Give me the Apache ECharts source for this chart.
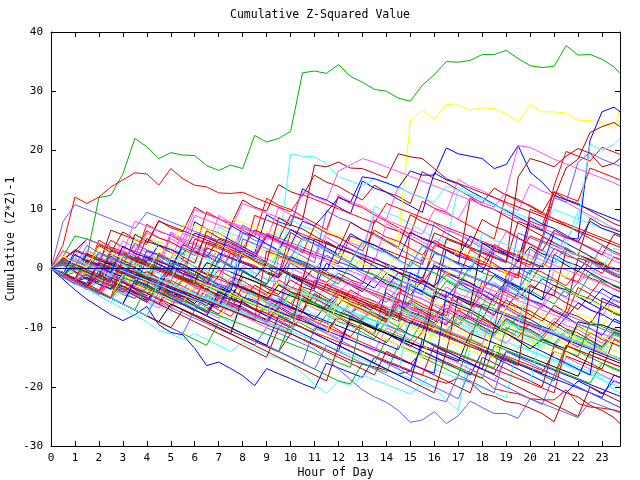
<!DOCTYPE html>
<html><head><meta charset="utf-8">
<script src="https://cdn.jsdelivr.net/npm/echarts@6/dist/echarts.min.js"></script>
<style>html,body{margin:0;padding:0;background:#fff}#c{width:640px;height:480px}</style>
</head><body><div id="c"></div>
<script>
const hours=[0,0.5,1,1.5,2,2.5,3,3.5,4,4.5,5,5.5,6,6.5,7,7.5,8,8.5,9,9.5,10,10.5,11,11.5,12,12.5,13,13.5,14,14.5,15,15.5,16,16.5,17,17.5,18,18.5,19,19.5,20,20.5,21,21.5,22,22.5,23,23.5,23.75];
const s1=[0,-1,0.5,2,12,12.4,16,22, 20.6,18.6,19.6,19.2,19.1,17.4,16.6,17.5, 16.9,22.5,21.4,22,23.2,33.1,33.4,33, 34.5,32.5,31.5,30.3,30,28.8,28.3,31, 32.8,35,34.9,35.2,36.2,36.2,36.9,35.5, 34.3,34,34.2,37.7,36.1,36.2,35.4,34.1, 33];
const s2=[0,-0.7,1.5,0.8,4,3.2,2.5,6, 5.2,4.5,3.8,7.5,6.8,6,5.3,8.5, 7.8,7,6.3,5.6,4.9,4.2,7,6.3, 5.6,4.9,4.2,3.6,4.5,5,25,26.8, 25.3,27.8,27.6,26.8,27.2,27,26.2,24.8, 27.7,26.5,26.5,26.3,25.1,25,24.7,23.7, 26.8];
const s3=[0,-1,-1.8,-2.5,1,0.2,-0.6,-1.4, 3,2.2,1.4,0.6,-0.2,-1,2.5,1.7, 0.9,0.1,-0.7,-1.5,2,1.2,0.4,-0.4, 4,3.2,2.4,1.6,0.8,0,-0.8,-1.6, 2.6,1.8,1,0.2,-0.6,3.5,2.7,1.9, 1.1,0.3,6,5.2,5,21.7,26.5,27.3, 26.5];
const s4=[0,-1.8,-3.6,-5.2,-6.5,-7.8,-8.8,-7.8, -6.4,-9.5,-10.8,-11.2,-13.5,-16.4,-15.8,-16.9, -18.1,-19.8,-16.9,-17.8,-18.6,-19.5,-20.3,-16, -16.8,-17.6,-18.4,-15,-15.8,-16.6,-17.4,-13, -13.8,-14.6,-15.4,-16.2,-17,-17.8,-14,-14.8, -15.6,-16.4,-17.2,-18,-18.8,-19.6,-20.4,-21.2, -21.6];
const s5=[0,-0.8,-1.6,1.5,0.7,-0.1,-0.9,-1.7, 2,1.2,0.4,-0.4,-1.2,3.5,2.7,1.9, 1.1,0.3,-0.5,-1.3,4,3.2,2.4,1.6, 0.8,5.5,4.7,3.9,3.1,2.3,1.5,0.7, 6,5.2,4.4,3.6,2.8,2,1.2,8, 7.2,6.4,12,17,18.5,23,24,24.7, 24];
const s6=[0,-1,-2,-1,-1.8,-2.6,0.5,-0.3, -1.1,-1.9,2,1.2,0.4,-0.4,-1.2,-2, -2.8,0,-0.8,3,19.4,19,18.9,17.7, 15.5,14.8,14,15.2,14.4,13.6,12.8,12, 11.2,14,13.2,12.4,11.6,10.8,10,9.2, 8.4,7.6,10,9.2,8.4,7.6,6.8,6, 5.6];
const s7=[0,4,12.1,11,12.1,13.8,15,16.2, 16,14.1,16.9,15.2,14.1,13.8,12.8,12.7, 12.9,12,11.2,10.4,9.6,12.5,11.7,10.9, 10.1,9.3,8.5,7.7,11,10.2,9.4,8.6, 7.8,7,6.2,5.4,4.6,3.8,3,2.2, 5.5,4.7,3.9,3.1,2.3,1.5,0.7,-0.1, -0.5];
const s8=[0,-1.1,-2.2,-3.2,-4.2,-5.1,-3,-3.9, -4.8,-5.7,-6.6,-7.5,-8.4,-9.3,-10.2,-11.1, -12,-12.9,-10,-10.9,-11.8,-12.7,-13.6,-15.2, -17,-18.8,-20.5,-21.7,-22.6,-24,-26,-25.6, -24.2,-26.2,-24.9,-22.4,-23.5,-24.5,-24.5,-25.3, -22,-22.8,-23.6,-24.4,-25.2,-22.5,-23.2,-24, -24.4];
const s9=[0,-0.9,-1.8,-2.7,-3.6,-1.5,-2.4,-3.3, -4.2,-5.1,-6,-6.9,-7.8,-8.7,-9.6,-10.5, -11.4,-12.3,-13.2,-14.1,-11,-11.9,-12.8,-13.7, -14.6,-15.5,-16.2,-16.6,-17.2,-17.8,-17.4,-18, -18.8,-19.4,-18.5,-19.2,-21.1,-21.6,-22.5,-22.8, -23.6,-24.5,-25.9,-21,-21.7,-23.1,-24,-25.2, -26.2];
const s10=[0,-1,-2,-1,-2,-3,-4,-2.5, -3.4,-4.3,-5.2,-6.1,-7,-7.9,-5,-5.9, -6.8,-7.7,-8.6,-9.5,-10.4,-8,-8.9,-9.8, -10.7,-11.6,-12.5,-13.4,-14.3,-15.2,-16.1,-14, -14.9,-15.8,-16.7,-17.6,-18.5,-20.3,-20.8,-21.2, -22,-22.2,-22.2,-20.5,-22.8,-23.4,-23.6,-23.9, -24.2];
const s11=[0,1.5,3,5,4.2,3.4,2.6,1.8, 1,0.2,-0.6,-1.4,-2.2,1,0.2,-0.6, -1.4,-2.2,-3,-3.8,-4.6,-5.4,-6.2,-7, -7.8,-8.6,-9.4,-10.2,-11,-11.8,-12.6,-13.4, -4.6,-5.4,-6.2,-7,-8.1,-9.5,-10.9,-12.2, -13.6,-12,-12.8,-13.6,-9,-9.5,-9.5,-10.3, -10.7];
const s12=[0,-1.2,-2.4,-3.5,-4.6,-5.7,-6.8,-7.9, -9,-10.5,-11,-12,-11,-12,-13,-14, -12.5,-13.5,-14.5,-15.2,-16,-17.7,-19.6,-21.1, -19,-19.8,-18,-18.8,-19.6,-20.4,-21.2,-19.5, -20.2,-22.2,-24,-13,-13.8,-14.6,-15.4,-16.2, -17,-17.8,-15,-15.8,-16.6,-17.4,-18.2,-19, -19.4];
const s13=[0,-1,-2,1,0.2,-0.6,-1.4,2, 1.2,4,3.2,2.4,6,5.2,4.4,3.6, 2.8,2,5.5,4.7,3.9,8,7.2,9.5, 12,11.2,15.5,15.2,14.5,13.7,16.5,15.8, 15.8,20.4,19.4,19,18.6,16.9,17.6,20.8, 16.3,14.6,12.4,11.6,10.8,10,9.2,8.4, 8];
const s14=[0,1,0.2,-0.6,2.5,1.7,0.9,4, 3.2,2.4,1.6,6,5.2,4.4,3.6,2.8, 7,6.2,5.4,4.6,3.8,3,2.2,6, 5.2,4.4,3.6,9,8.2,7.4,6.6,5.8, 10,9.2,8.4,12,11.2,10.4,13,20.8, 20.5,19.5,18.5,17.7,16.9,16.1,15.3,14.5, 14];
const s15=[0,-1,-2,-3,-1,-2,1,0.2, 2,1.2,0.4,3.5,2.7,1.9,5,4.2, 3.4,6.5,5.7,4.9,9,8.2,17.5,17.2, 18,17,16.9,16.1,15.3,19.4,18.9,18.6, 16.9,15.2,14.4,13.6,12.8,12,11.2,10.4, 9.6,8.8,8,7.2,6.4,5.6,4.8,4, 3.6];
const s16=[0,-1,-2,-3,-4,-2,-3,-4, -5,-6,-2,-3,-4,-5,-6,-7, -3,-4,-5,-6,-7,-2,-3,-4, -5,-6,-7,-8,-9,-4,-5,-6, -7,-8,-2,-3,-4,3,2.2,1.4, 0.6,5,14,19.8,19,18.2,20.5,19.7, 19.3];
const s17=[0,2,5.5,5,4.2,3.4,2.6,1.8, 1,0.2,-0.6,-1.4,-2.2,-3,-3.8,-4.6, -5.4,-6.2,-7,-7.8,-8.6,-5,-5.8,-6.6, -7.4,-8.2,-9,-9.8,-10.6,-11.4,-12.2,-9, -9.8,-10.6,-11.4,-12.2,-6,-6.8,-7.6,-8.4, -9.2,-10,-10.8,-11.6,-12.4,-13.2,-14,-14.8, -15.2];
const s18=[0,-1,-2,-3,-4,-5,-6,-2, -3,-4,-5,-6,-7,-8,-4,-5, -6,-7,-8,-9,-10,-11,-12,-13, -14,-8,-9,-10,-11,-12,-13,-14, -15,-16,-17,-18,-14,-15,-16,-17, -18,-19,-20,-21,-19,-20,-21.2,-19, -19.4];
const s19=[0,-1.2,-2.4,-3.6,-1,-2,-3,-4, -5,-6,-7,-3,-4,-5,-6,-7, -8,-9,-10,-6,-7,-8,-9,-10, -11,-12,-13,-14,-10,-11,-12,-13, -14,-15,-16,-17,-18,-19,-15,-16, -17,-18,-19,-15,-16,-17,-18,-19, -19.5];
const s20=[0,1,0.2,3,2.2,1.4,0.6,-0.2, -1,-1.8,-2.6,-3.4,-4.2,-5,-5.8,-6.6, -7.4,-8.2,-9,-9.8,-10.6,-11.4,-12.2,-13, -13.8,-14.6,-15.4,-16.2,-17,-17.8,-18.6,-19.4, -17,-17.8,-18.6,-19.4,-20.2,-21,-21.8,-13, -13.8,-14.6,-15.4,-16.2,-17,-17.8,-18.6,-20.5, -21];
const s21=[0,3,2.2,1.4,0.6,6.5,5.7,4.9, 4.1,8,7.2,6.4,5.6,4.8,4,3.2, 2.4,1.6,0.8,0,-0.8,-1.6,-2.4,-3.2, -4,-4.8,-5.6,-6.4,-7.2,-8,-8.8,-9.6, -10.4,-11.2,-12,-12.8,-13.6,-14.4,-15.2,-16, -16.8,-17.6,-14,-14.8,-15.6,-16.4,-17.2,-18, -18.4];
const s22=[0,-1,-2,2,1.2,0.4,-0.4,5, 4.2,3.4,2.6,1.8,7.5,6.7,5.9,5.1, 4.3,3.5,2.7,1.9,1.1,0.3,-0.5,-1.3, 2.5,1.7,0.9,0.1,-0.7,-1.5,-2.3,-3.1, -3.9,-0.5,-1.3,-2.1,-2.9,-3.7,-4.5,-5.3, -1.5,-2.3,-3.1,-3.9,-4.7,-5.5,-6.3,-7.1, -7.5];
const s23=[0,7.9,10.8,10,9.2,8.4,7.6,6.8, 9.5,8.7,7.9,7.1,6.3,5.5,4.7,3.9, 3.1,2.3,6,5.2,4.4,3.6,2.8,2, 1.2,0.4,-0.4,-1.2,-2,-2.8,-3.6,-4.4, 1,0.2,-0.6,-1.4,-2.2,-3,-3.8,-4.6, -5.4,-6.2,-7,-7.8,-8.6,-9.4,-10.2,-11, -11.4];
const s24=[0,-1,-2,-3,-4,-5,-6,-7, -8,-9,-6,-7,-8,-9,-10,-11, -5,-6,-7,-8,-9,-10,-11,-12, -13,-8.5,-9.3,-10.1,-10.9,-11.7,-12.5,-13.3, -14.1,-14.9,-15.7,-11,-11.8,-12.6,-13.4,-14.2, -15,-15.8,-16.6,-17.4,-18.2,-14,-14.8,-15.6, -16];
const s25=[0,-1,-2,-3,1,0.2,-0.6,-1.4, -2.2,-3,-3.8,-4.6,-5.4,-1,-1.8,-2.6, -3.4,-4.2,-5,-5.8,-6.6,-7.4,-2,-2.8, -3.6,-4.4,-5.2,-6,-6.8,-7.6,-8.4,-9.2, -10,-10.8,-11.6,-12.4,-13.2,-14,-14.8,-15.6, -16.4,-17.2,-18,-13,-13.8,-14.6,-15.4,-16.2, -16.6];
const s26=[0,-1,-2,-3,-4,-5,-6,-7, -8,-9,-10,-11,-12,-13,-9,-10, -11,-12,-13,-14,-15,-16,-17,-18, -19,-19.5,-16,-16.8,-17.6,-13,-13.8,-14.6, -15.4,-16.2,-17,-17.8,-18.6,-13,-13.8,-14.6, -15.4,-16.2,-17,-17.8,-18.6,-19.4,-16,-16.8, -17.2];
const s27=[0,-1,-2,-3,-4,-1,-2,-3, 1.5,0.7,-0.1,-0.9,-1.7,-2.5,-3.3,-4.1, -4.9,-5.7,-6.5,-7.3,-8.1,-8.9,-9.7,-10.5, -11.3,-12.1,-12.9,-13.7,-14.5,-15.3,-16.1,-16.9, -17.7,-4,-4.8,-5.6,-6.4,-7.2,-8,-8.8, -9.6,-10.4,-11.2,-12,-12.8,-13.6,-14.4,-15.2, -15.6];
const s28=[0,-1,1.5,0.7,-0.1,-0.9,3,2.2, 1.4,0.6,-0.2,-1,-1.8,-2.6,-3.4,4, 3.2,2.4,1.6,0.8,0,-0.8,-1.6,-2.4, -3.2,-4,-4.8,-5.6,-6.4,-7.2,-8,-8.8, -9.6,-10.4,-11.2,-12,-12.8,-7,-7.8,-8.6, -9.4,-10.2,-11,-11.8,-12.6,-13.4,-14.2,-15, -15.4];
const s29=[0,-1,-2,-3,-4,-5,-1,-2, -3,-4,-5,-6,-7,-8,-9,-10, -11,-12,-13,-14,-9,-10,-11,-12, -13,-14,-15,-16,-17,-18,-6,-6.8, -7.6,-8.4,-9.2,-10,-10.8,-11.6,-12.4,-13.2, -14,-14.8,-15.6,-16.4,-17.2,-18,-18.8,-19.6, -20];
const s30=[0,-1,-2,-3,-1,-2,-3,-4, -5,-6,-7,-8,-9,-10,-11,-12, -13,-14,-15,-10,-11,-12,-13,-14, -15,-16,-17,-18,-14,-15,-16,-17, -18,-19,-20,-21,-15,-16,-17,-18, -19,-20,-13,-14,-15,-16,-17,-12, -12.5];
const s31=[0,2,1.2,0.4,-0.4,-1.2,-2,-2.8, -3.6,-4.4,-5.2,-6,-2,-2.8,-3.6,-4.4, -5.2,-6,-6.8,-7.6,-8.4,-9.2,-10,-10.8, -5,-5.8,-6.6,-7.4,-8.2,-9,-9.8,-10.6, -11.4,-12.2,-13,-13.8,-14.6,-10,-10.8,-11.6, -12.4,-13.2,-14,-14.8,-10,-10.8,-11.6,-12.4, -12.8];
const s32=[0,-1,-2,-3,-4,-5,-6,-7, -8,-9,-10,-11,-7,-8,-9,-10, -11,-12,-13,-14,-15,-16,-10,-11, -12,-13,-14,-15,-16,-17,-18,-19, -20,-21,-22,-17,-18,-19,-20,-21, -22,-23,-18,-19,-20,-21,-22,-23, -23.5];
const s33=[0,1.5,0.7,-0.1,4,3.2,2.4,1.6, 0.8,0,-0.8,-1.6,5,4.2,3.4,2.6, 1.8,9,8.2,7.4,6.6,5.8,5,4.2, 3.4,2.6,1.8,1,0.2,-0.6,-1.4,-2.2, 4,3.2,2.4,1.6,0.8,0,-0.8,-1.6, 10,9.2,8.4,7.6,6.8,6,5.2,4.4, 4];
const s34=[0,-1,-2,-3,-4,-5,-6,-7, -3,-4,-5,-6,-7,-8,-9,-10, -11,-12,-13,-14,-9,-10,-11,-12, -13,-14,-15,-16,-12,-13,-14,-15, -16,-17,-18,-12,-13,-14,-15,-16, -17,-18,-19,-13,-14,-15,-16,-17, -17.4];
const s35=[0,-1,3,2.2,1.4,0.6,-0.2,-1, -1.8,-2.6,-3.4,-4.2,-5,-5.8,-6.6,-2.5, -3.3,-4.1,-4.9,-5.7,-6.5,-7.3,-8.1,-8.9, -9.7,-10.5,-11.3,-12.1,-12.9,-13.7,-9,-9.8, -10.6,-11.4,-12.2,-13,-13.8,-14.6,-15.4,-16.2, -17,-17.8,-18.6,-19.4,-20.2,-21,-21.8,-18, -18.4];
const s36=[0,3,2.2,5,4.2,3.4,2.6,8, 7.2,6.4,5.6,4.8,10,9.2,8.4,7.6, 6.8,6,5.2,4.4,3.6,2.8,2,1.2, 0.4,-0.4,-1.2,-2,-2.8,-3.6,-4.4,-5.2, -6,-6.8,-7.6,-8.4,-3,-3.8,-4.6,-5.4, -6.2,-7,-7.8,-8.6,-9.4,-10.2,-11,-11.8, -12.2];
const s37=[0,-1,-2,2,1.2,0.4,-0.4,-1.2, -2,-2.8,-3.6,-4.4,-5.2,-6,1.5,0.7, -0.1,-0.9,-1.7,-2.5,-3.3,-4.1,-4.9,-5.7, -6.5,-7.3,-8.1,-8.9,-9.7,-10.5,-11.3,-12.1, -12.9,-13.7,-14.5,-15.3,-16.1,-16.9,-17.7,-18.5, -19.3,-10,-10.8,-11.6,-12.4,-13.2,-14,-14.8, -15.2];
const s38=[0,-1,-2,-3,-4,-5,-6,-7, -8,-9,-10,-7,-8,-9,-10,-11, -12,-13,-14,-15,-16,-17,-18,-19, -13,-14,-15,-16,-17,-18,-19,-20, -21,-14,-15,-16,-17,-18,-19,-20, -21,-22,-23,-24,-25,-20,-21,-22, -22.5];
const s39=[0,-1,-2,-3,-4,-5,-1,-2, -3,-4,-5,-6,-7,-8,-9,-4, -5,-6,-7,-8,-9,-10,-11,-12, -8,-9,-10,-11,-12,-13,-14,-15, -10,-11,-12,-13,-14,-15,-6,-7, -8,-9,-10,-11,-12,-13,-14,-15, -15.5];
const s40=[0,-1,-2,-3,-4,-5,-6,-7, -8,-4,-5,-6,-7,-8,-9,-10, -11,-12,-13,-14,-15,-16,-17,-13, -14,-15,-16,-17,-18,-19,-20,-21, -22,-22.5,-18,-19,-20,-21,-14,-15, -16,-17,-18,-19,-20,-21,-22,-23, -23.4];
const s41=[0,-1,-2,-3,-4,1,0.2,-0.6, -1.4,-2.2,-3,-3.8,-4.6,-5.4,-6.2,-7, -7.8,-8.6,3,2.2,1.4,0.6,-0.2,-1, -1.8,-2.6,-3.4,-4.2,-5,-5.8,6,5.2, 4.4,3.6,2.8,2,1.2,0.4,-0.4,-1.2, 8,7.2,13,12.2,11.4,17,16.2,15.4, 15];
const s42=[0,-1,-2,2.5,1.7,0.9,0.1,-0.7, -1.5,-2.3,-3.1,-3.9,-4.7,-5.5,-6.3,-7.1, -7.9,-8.7,-9.5,-10.3,-11.1,-2,-2.8,-3.6, -4.4,-5.2,-6,-6.8,-7.6,-8.4,-9.2,-10, -10.8,-11.6,-12.4,-13.2,-14,-14.8,-15.6,-16.4, -3,-3.8,-4.6,3,2.2,1.4,0.6,-0.2, -0.6];
const s43=[0,-1,-2,-3,-4,-1,-2,-3, -4,-5,-1,-2,-3,-4,-5,-6, -7,-8,-9,2,1.2,0.4,-0.4,-1.2, -2,-2.8,-3.6,-4.4,-5.2,-6,-6.8,-7.6, -8.4,-9.2,-2,-2.8,-3.6,-4.4,-5.2,3, 2.2,1.4,0.6,-0.2,-1,-1.8,-2.6,-3.4, -3.8];
const s44=[0,-1,-2,-3,-4,-5,-6,-2, -3,-4,-5,-6,-7,-8,-9,-10, -11,-12,-13,-8,-9,-10,-11,-12, -13,-14,-15,-16,-17,-18,-19,-12, -13,-14,-15,-16,-17,-10,-11,-12, -13,-14,-15,-16,-17,-18,-5,-6, -6.5];
const s45=[0,-1,-2,-3,-4,-5,-1.5,-2.3, -3.1,-3.9,-4.7,-5.5,-6.3,-7.1,-7.9,-8.7, -9.5,-10.3,-11.1,-11.9,-12.7,-13.5,-14.3,-15.1, -15.9,-16.7,-8,-8.8,-9.6,-10.4,-11.2,-12, -12.8,-13.6,-14.4,-15.2,-16,-16.8,-10,-10.8, -11.6,-12.4,-13.2,-14,-14.8,-9,-9.8,-10.6, -11];
const s46=[0,-1,-2,-3,-4,-5,-6,-7, -8,-2,-2.8,-3.6,-4.4,-5.2,-6,-6.8, -7.6,-8.4,-9.2,-10,-10.8,-4,-4.8,-5.6, -6.4,-7.2,-8,-8.8,-9.6,-2,-2.8,-3.6, -4.4,-5.2,-6,-6.8,-7.6,-8.4,-9.2,-10, -1,-1.8,0,5,8,21,20,21, 22];
const s47=[0,2,1.2,0.4,-0.4,-1.2,-2,3, 2.2,1.4,0.6,-0.2,-1,-1.8,-2.6,-3.4, 5,4.2,3.4,2.6,1.8,1,0.2,-0.6, -1.4,-2.2,-3,-3.8,-4.6,-5.4,-6.2,2, 1.2,0.4,-0.4,-1.2,-2,-2.8,-3.6,6, 5.2,4.4,12,11.2,18,19.6,18.5,17.7, 17.3];
const s48=[0,1,0.2,-0.6,-1.4,3,2.2,1.4, 0.6,-0.2,-1,-1.8,-2.6,4.5,3.7,2.9, 2.1,1.3,0.5,-0.3,-1.1,-1.9,5,4.2, 3.4,2.6,1.8,1,0.2,-0.6,-1.4,-2.2, -3,5,4.2,3.4,2.6,1.8,1,15.5, 18.6,18,17.2,19,20.3,19.5,17.2,17.8, 18.6];
const s49=[0,-1,-2,1,0.2,-0.6,3,2.2, 6,5.2,4.4,3.6,9,8.2,7.4,6.6, 11,10.2,9.4,8.6,7.8,13,12.2,11.4, 16.5,17.5,18.6,18,17.2,16.4,15.6,14.8, 14,13.2,12.4,11.6,10.8,10,9.2,8.4, 7.6,6.8,6,5.2,4.4,3.6,2.8,2, 1.6];
const s50=[0,-1,-2,-3,-4,-5,2,1.2, 0.4,-0.4,-1.2,-2,-2.8,-3.6,-4.4,-5.2, -6,-6.8,-7.6,-8.4,-9.2,-10,-10.8,-11.6, -12.4,-13.2,-14,-14.8,-15.6,-16.4,-17.2,-18, -13,-13.8,-14.6,-15.4,-16.2,-17,-17.8,-18.6, -19.4,-20.2,-21,-13,-13.8,-14.6,-15.4,-16.2, -16.6];
const t1=[0,-1.3,-0.6,-1.9,-2.4,0.8,-0.5,-1.7, -0.4,-1.6,-2.1,1.5,0.3,-0.9,-1.4,2.6, 1.2,0.5,-0.8,-1.6,0.9,-0.2,-1.5,-2.3, -0.8,-1.9,-2.6,1.8,0.6,-0.7,-1.3,-2.5, 0.4,-0.9,-1.6,3.2,2,0.8,-0.4,-1.1, -2.3,0.9,-0.3,-1.6,-2.2,1.4,0.2,-0.9, -1.4];
const t2=[0,-0.8,-2.1,-1.2,-2.6,-3.5,-2,-3.3, -4.1,-2.8,-3.9,-5.2,-4,-5.3,-6.1,-3.5, -4.8,-5.4,-6.6,-5.1,-6.4,-7.3,-4.2,-5.5, -6.3,-7.5,-6.2,-7.4,-8.5,-5.6,-6.9,-7.6, -8.8,-9.5,-7.1,-8.3,-9.4,-10.2,-6.7,-7.9, -8.6,-9.8,-10.5,-8.2,-9.4,-10.1,-11.3,-8.5, -9];
const t3=[0,0.9,-0.4,-1.5,1.8,0.6,-0.6,-1.3, -2.5,0.2,-1,-1.8,-2.9,-1.4,-2.6,-3.2, 0.5,-0.7,-1.9,-2.4,-3.6,-1.1,-2.3,-3.4, -4,-2.2,-3.4,-4.6,-1.5,-2.7,-3.3,-4.5, -5.6,-3.1,-4.3,-5,-6.2,-2.4,-3.6,-4.8, -5.4,-6.6,-3.8,-5,-5.7,-6.9,-8,-5.2, -5.6];
const t4=[0,-1.6,-2.3,-3.5,-2.1,-3.2,-4.4,-5, -3.1,-4.3,-5.5,-6.1,-7.2,-4.6,-5.8,-6.5, -7.7,-8.8,-6.3,-7.5,-8.2,-9.4,-10.5,-7.8, -9,-9.6,-10.8,-11.9,-8.7,-9.9,-2.6,-3.8, -4.9,-2.1,-3.3,-4,-5.2,-6.3,-1.8,-3, -3.7,-4.9,-6,-3.2,-4.4,-5.1,-6.3,-7.4, -7.8];
const t5=[0,-0.7,-1.9,0.6,-0.6,-1.8,-2.4,-0.2, -1.4,-2.6,-3.2,-4.4,-1.9,-3.1,-3.8,-5, -6.1,-3.4,-4.6,-5.3,-6.5,-7.6,-4.9,-6.1, -6.8,-8,-9.1,-6.4,-7.6,-8.3,-9.5,-10.6, -7.2,-8.4,-9.1,-10.3,-11.4,-8.8,-10,-10.7, -11.9,-13,-10.3,-11.5,-12.2,-13.4,-14.5,-12, -12.3];
const t6=[0,-1.1,-2.2,-1,-2.1,1.4,0.2,-1, -1.6,-2.8,-0.5,-1.7,-2.4,-3.6,-1.3,-2.5, -3.1,-4.3,-5.4,-2.8,-4,-4.7,-5.9,-2.6, -3.8,-4.5,-5.7,-6.8,-4.1,-5.3,-6,-7.2, -8.3,-5.5,-6.7,-7.4,-8.6,-4.7,-5.9,-6.6, -7.8,-8.9,-6.2,-7.4,-8.1,-9.3,-6.4,-7.6, -8];
const t7=[0,-1.4,-0.3,-1.5,-2.6,-1.1,-2.3,-3, -1.2,-2.4,-3.1,-0.9,-2.1,-2.8,-4,-1.7, -2.9,-3.6,-4.8,-2.3,-3.5,-4.2,-5.4,-3.1, -4.3,-5,-6.2,-3.8,-5,-5.7,-6.9,-4.5, -5.7,-6.4,-7.6,-5.2,-6.4,-7.1,-8.3,-5.9, -7.1,-7.8,-9,-6.5,-7.7,-8.4,-9.6,-7.2, -7.6];
const t8=[0,-1.2,-2.5,-3.3,-4.4,-2.6,-3.8,-4.5, -5.7,-3.3,-4.5,-5.2,-6.4,-7.5,-5.1,-6.3, -7,-8.2,-9.3,-6.8,-1,-1.7,-2.9,-4, -1.5,-2.7,-3.4,-4.6,-5.7,-3.2,-4.4,-5.1, -6.3,-7.4,-4.9,-6.1,-6.8,-8,-3.1,-0.6, -1.8,-2.5,-3.7,-4.8,-2.3,-3.5,-4.2,-5.4, -5.8];
const t9=[0,1.2,0,-1.2,-1.8,-3,-0.8,-2, -2.7,1.5,0.3,-0.4,-1.6,-2.7,-0.2,-1.4, -2.1,-3.3,-4.4,-1.9,-3.1,-3.8,-5,-6.1, -3.6,-4.8,-5.5,-6.7,-7.8,-5.3,-6.5,-7.2, -8.4,-9.5,-7,-8.2,-8.9,-10.1,-1.2,1.3, 0.1,-0.6,-1.8,-2.9,-0.4,-1.6,-2.3,-3.5, -3.9];
const t10=[0,-0.9,-1.8,-2.9,-1.2,-2.4,-3.1,-4.3, -5.4,-2.9,-4.1,-4.8,-6,-7.1,-4.6,-5.8, -6.5,-7.7,-8.8,-6.3,-7.5,-8.2,-9.4,-10.5, -8,-9.2,-9.9,-11.1,-3.2,-0.7,-1.9,-2.6, -3.8,-4.9,-2.4,-3.6,-4.3,-5.5,-6.6,-4.1, -5.3,-6,-7.2,-8.3,-5.8,-7,-7.7,-8.9, -9.3];
const t11=[0,-1.5,-2.2,-0.8,-2,-2.7,-3.9,-1.6, -2.8,-3.5,-4.7,-5.8,-3.3,-4.5,-5.2,-6.4, -3.9,-5.1,-5.8,-7,-8.1,-5.6,-6.8,-7.5, -8.7,-6.2,-7.4,-8.1,-9.3,-10.4,-7.9,-9.1, -9.8,-11,-8.5,-9.7,-10.4,-11.6,-12.7,-10.2, -11.4,-12.1,-13.3,-10.8,-12,-12.7,-13.9,-15, -15.4];
const t12=[0,0.6,-0.6,-1.8,0.8,-0.4,-1.6,-2.2, -0.5,-1.7,-2.4,-3.6,-1.1,-2.3,-3,-4.2, -5.3,-2.8,-4,-4.7,-5.9,-3.4,-4.6,-5.3, -6.5,-7.6,-5.1,-6.3,-7,-8.2,-5.7,-6.9, -7.6,-8.8,-9.9,-7.4,-8.6,-9.3,-10.5,-8, -9.2,-9.9,-11.1,-12.2,-9.7,-10.9,-11.6,-12.8, -13.2];
const t13=[0,-1.3,-0.1,-1.3,-2.4,-3.1,-1.8,-3, -3.7,-4.9,-2.4,-3.6,-4.3,-5.5,-6.6,-4.1, -5.3,-6,-7.2,-4.7,-5.9,-6.6,-7.8,-8.9, -6.4,-7.6,-8.3,-9.5,-7,-8.2,-8.9,-10.1, -11.2,-8.7,-9.9,-10.6,-11.8,-9.3,-10.5,-11.2, -12.4,-13.5,-11,-12.2,-12.9,-14.1,-11.6,-12.8, -13.2];
const t14=[0,-1,-2.2,-2.9,-4.1,-1.8,-3,-3.7, -4.9,-6,-3.5,-4.7,-5.4,-6.6,-7.7,-5.2, -1.4,-2.1,-3.3,-4.4,-1.9,-3.1,-3.8,-5, -6.1,-3.6,-4.8,-5.5,-6.7,-7.8,-5.3,-6.5, -7.2,-8.4,-9.5,-7,-2.2,-2.9,-4.1,-5.2, -2.7,-3.9,-4.6,-5.8,-6.9,-4.4,-5.6,-6.3, -6.7];
const t15=[0,-0.8,-2,1.2,0,-0.7,-1.9,-3, -0.5,-1.7,-2.4,-3.6,-4.7,-2.2,-3.4,-4.1, -5.3,-2.8,-4,-4.7,-5.9,-7,-4.5,-5.7, -6.4,-7.6,-8.7,-6.2,-7.4,-8.1,-9.3,-6.8, -8,-8.7,-9.9,-11,-8.5,-9.7,-10.4,-11.6, -9.1,-10.3,-11,-12.2,-13.3,-10.8,-12,-12.7, -13.1];
const t16=[0,-1.2,-1.9,-3.1,-4.2,-1.7,-2.9,-3.6, -4.8,-2.3,-3.5,-4.2,-5.4,-6.5,-4,-5.2, -5.9,-7.1,-8.2,-5.7,-6.9,-7.6,-8.8,-6.3, -7.5,-8.2,-9.4,-10.5,-8,-9.2,-9.9,-11.1, -8.6,-9.8,-10.5,-11.7,-12.8,-10.3,-11.5,-12.2, -13.4,-10.9,-12.1,-12.8,-14,-15.1,-12.6,-13.8, -14.2];
const t17=[0,-1.1,0.3,-0.9,-1.6,-2.8,-0.3,-1.5, -2.2,-3.4,-4.5,-2,-3.2,-3.9,-5.1,-2.6, -3.8,-4.5,-5.7,-6.8,-4.3,-5.5,-6.2,-7.4, -4.9,-6.1,-6.8,-8,-9.1,-6.6,-7.8,-8.5, -9.7,-7.2,-8.4,-9.1,-10.3,-11.4,-8.9,-10.1, -10.8,-12,-9.5,-10.7,-11.4,-12.6,-13.7,-11.2, -11.6];
const t18=[0,-1.4,-2.1,-3.3,-1.1,-2.3,-3,-4.2, -5.3,-2.8,-4,-4.7,-5.9,-3.4,-4.6,-5.3, -0.5,-1.6,0.9,-0.3,-1,-2.2,0.3,-0.9, -1.6,-2.8,-3.9,-1.4,-2.6,-3.3,-4.5,-2, -3.2,-3.9,-5.1,-6.2,4.3,3.1,2.4,1.2, 3.7,2.5,1.8,0.6,-0.5,2,0.8,0.1, -0.3];
const t19=[0,1.8,0.6,-0.1,-1.3,2.1,0.9,0.2, -1,-2.1,0.4,-0.8,-1.5,-2.7,1.6,0.4, -0.3,-1.5,-2.6,-0.1,-1.3,-2,-3.2,0.9, -0.3,-1,-2.2,-3.3,-0.8,-2,-2.7,-3.9, 0.6,-0.6,-1.3,-2.5,-3.6,-1.1,-2.3,-3, -4.2,-1.7,-2.9,-3.6,-4.8,-5.9,-3.4,-4.6, -5];
const t20=[0,-1.2,-2.4,-0.6,-1.8,-2.5,0.8,-0.4, -1.1,-2.3,-3.4,-0.9,-2.1,-2.8,-4,-1.5, -2.7,-3.4,-4.6,-5.7,-3.2,-4.4,-5.1,-6.3, -3.8,-5,-5.7,-6.9,-8,-5.5,-6.7,-7.4, -8.6,-6.1,-7.3,-8,-9.2,-10.3,-7.8,-9, -9.7,-10.9,-8.4,-9.6,-10.3,-11.5,-12.6,-10.1, -10.5];
const t21=[0,-1.5,-2.7,-3.4,-4.6,-5.7,-3.2,-4.4, -5.1,-6.3,-7.4,-4.9,-6.1,-6.8,-8,-9.1, -6.6,-7.8,-8.5,-9.7,-10.8,-8.3,-9.5,-10.2, 0.6,-0.5,2,0.8,0.1,-1.1,-2.2,0.3, -0.9,-1.6,-2.8,-3.9,-1.4,-2.6,-3.3,-4.5, 0.4,2.9,1.7,1,-0.2,-1.3,1.2,0, -0.4];
const t22=[0,0.7,-0.5,-1.7,-2.3,1.3,0.1,-0.6, -1.8,-2.9,-0.4,-1.6,-2.3,-3.5,-4.6,-2.1, -3.3,-4,-5.2,-2.7,-3.9,-4.6,-5.8,-6.9, -4.4,-5.6,-6.3,-7.5,-8.6,-6.1,-7.3,-8, -9.2,-6.7,-7.9,-8.6,-9.8,-10.9,-8.4,-9.6, -10.3,-11.5,-9,-10.2,-10.9,-12.1,-13.2,-10.7, -11.1];
const t23=[0,-1,-1.9,-3,-3.8,-4.9,-2.2,-3.4, -4.1,-5.3,-6.4,-3.9,-5.1,-5.8,-7,-8.1, -5.6,-6.8,-7.5,-8.7,-9.8,-7.3,-8.5,-9.2, -10.4,-11.5,-9,-10.2,-10.9,-12.1,-13.2,-10.7, -3.9,-4.6,-5.8,-6.9,-4.4,-5.6,-6.3,-7.5, -8.6,-6.1,-7.3,-8,-3.2,-4.3,-1.8,-3, -3.4];
const t24=[0,-1.3,0.6,-0.6,-1.3,-2.5,-3.6,-1.1, -2.3,-3,-4.2,-1.7,-2.9,-3.6,-4.8,-5.9, -3.4,-4.6,-5.3,-6.5,-4,-5.2,-5.9,-7.1, -8.2,-5.7,-6.9,-7.6,-8.8,-6.3,-7.5,-8.2, -9.4,-10.5,-8,-9.2,-9.9,-11.1,-8.6,-9.8, -10.5,-11.7,-12.8,-10.3,-11.5,-12.2,-13.4,-10.9, -11.3];
const t25=[0,-0.6,-1.8,-2.9,-0.4,-1.6,-2.3,-3.5, -4.6,-2.1,-3.3,-4,-5.2,-6.3,-3.8,-5, -5.7,-6.9,-8,-5.5,-6.7,-7.4,-8.6,-6.1, -7.3,-8,-9.2,-10.3,-7.8,-9,-0.7,-1.9, -3,-0.5,-1.7,-2.4,-3.6,-4.7,-2.2,-3.4, -4.1,-5.3,-2.8,-4,-4.7,-5.9,-7,-4.5, -4.9];
const t26=[0,-1.4,-2.6,-0.9,-2.1,-2.8,-4,-5.1, -2.6,-3.8,-4.5,-5.7,-6.8,-4.3,-5.5,-6.2, -7.4,-8.5,-6,-7.2,2.1,0.9,-0.2,2.3, 1.1,0.4,-0.8,-1.9,0.6,-0.6,-1.3,-2.5, -3.6,-1.1,-2.3,-3,-4.2,-5.3,-2.8,-4, 3.3,2.1,1,3.5,2.3,1.6,0.4,-0.7, -1.1];
const t27=[0,1.1,-0.1,-0.8,-2,-3.1,-0.6,-1.8, -2.5,-3.7,-4.8,-2.3,-3.5,-4.2,-5.4,-2.9, -4.1,-4.8,-6,-7.1,-4.6,-5.8,-6.5,-7.7, -5.2,-6.4,-7.1,-8.3,-9.4,-6.9,-8.1,-8.8, -10,-7.5,-8.7,-9.4,-10.6,-11.7,-9.2,-10.4, -11.1,-12.3,-9.8,-11,-11.7,-12.9,-14,-11.5, -11.9];
const t28=[0,-1.1,-2.3,-3,-4.2,-2.5,-3.7,-4.4, -5.6,-6.7,-4.2,-5.4,-6.1,-7.3,-8.4,-5.9, -7.1,-7.8,-9,-10.1,-7.6,-8.8,-9.5,-10.7, -11.8,-9.3,-1.5,-2.2,-3.4,-4.5,-2,-3.2, -3.9,-5.1,-6.2,-3.7,-4.9,-5.6,-6.8,-7.9, -5.4,-6.6,-0.3,-1.5,-2.6,-0.1,-1.3,-2, -2.4];
const t29=[0,0.4,-0.8,-2,-2.6,0.9,-0.3,-1, -2.2,-3.3,-0.8,-2,-2.7,-3.9,-5,-2.5, -3.7,-4.4,-5.6,-6.7,-4.2,-5.4,-6.1,-7.3, -4.8,-6,-6.7,-7.9,-9,-6.5,-7.7,-8.4, -9.6,-10.7,-8.2,-9.4,-10.1,-11.3,-8.8,-10, -10.7,-11.9,-13,-10.5,-11.7,-12.4,-13.6,-11.1, -11.5];
const t30=[0,-1.3,-2.5,-3.2,-1.5,-2.7,-3.4,-4.6, -5.7,-3.2,-4.4,-5.1,-6.3,-7.4,-4.9,-6.1, -6.8,-8,-9.1,-6.6,-7.8,-8.5,-9.7,-10.8, -8.3,-9.5,-10.2,-11.4,-12.5,-10,-11.2,-11.9, -13.1,-14.2,-4.7,-5.9,-6.6,-7.8,-5.3,-6.5, -7.2,-8.4,-9.5,-7,1.8,1.1,-0.1,-1.2, -1.6];
const u1=[0,1.5,3.2,2.4,1.3,4.8,3.6,2.9, 6.4,5.2,4.5,3.3,2.2,5.6,4.4,3.7, 2.5,1.4,5.8,4.6,3.9,2.7,7.2,6, 5.3,4.1,3,6.5,5.3,4.6,3.4,2.3, 4.8,3.6,2.9,1.7,0.6,4.1,2.9,2.2, 1,-0.1,3.4,2.2,1.5,0.3,-0.8,1.9, 1.5];
const u2=[0,-0.9,2.4,1.2,0.5,-0.7,3.8,2.6, 1.9,0.7,-0.4,4.1,2.9,2.2,1,7.3, 6.1,5.4,4.2,3.1,6.6,5.4,4.7,3.5, 2.4,5.9,4.7,4,2.8,1.7,6.2,5, 4.3,3.1,2,5.5,4.3,3.6,2.4,1.3, 8.7,7.5,6.8,5.6,4.5,8,6.8,6.1, 5.7];
const u3=[0,0.8,-0.4,3.1,1.9,1.2,4.7,3.5, 2.8,1.6,5.1,3.9,3.2,2,0.9,4.4, 3.2,2.5,6,4.8,4.1,2.9,1.8,5.3, 4.1,3.4,2.2,1.1,7.6,6.4,5.7,4.5, 3.4,6.9,5.7,5,3.8,2.7,6.2,5, 4.3,3.1,2,5.5,4.3,3.6,2.4,1.3, 0.9];
const u4=[0,-1.1,0.9,-0.3,-1,2.5,1.3,0.6, 5.1,3.9,3.2,2,0.9,6.4,5.2,4.5, 3.3,2.2,1.1,8.6,7.4,6.7,5.5,4.4, 3.3,7.8,6.6,5.9,4.7,3.6,9.1,7.9, 7.2,6,4.9,3.8,8.3,7.1,6.4,5.2, 4.1,3,6.5,5.3,4.6,3.4,2.3,5.8, 5.4];
const u5=[0,2.1,0.9,0.2,3.7,2.5,1.8,0.6, -0.5,2.9,1.7,1,-0.2,-1.3,4.2,3, 2.3,1.1,0,3.5,2.3,1.6,0.4,-0.7, 2.8,1.6,0.9,-0.3,-1.4,4.1,2.9,2.2, 1,-0.1,3.4,2.2,1.5,0.3,-0.8,2.7, 1.5,0.8,-0.4,-1.5,3,1.8,1.1,-0.1, -0.5];
const u6=[0,-1,1.8,0.6,-0.1,-1.3,2.2,1, 0.3,-0.9,-2,3.5,2.3,1.6,0.4,-0.7, 2.8,1.6,0.9,-0.3,-1.4,5.1,3.9,3.2, 2,0.9,4.4,3.2,2.5,1.3,0.2,3.7, 2.5,1.8,0.6,-0.5,6,4.8,4.1,2.9, 1.8,0.7,4.2,3,2.3,1.1,0,3.5, 3.1];
const u7=[0,1.2,0,-0.7,2.8,1.6,0.9,-0.3, -1.4,2.1,0.9,0.2,-1,-2.1,1.4,0.2, -0.5,-1.7,-2.8,2.7,1.5,0.8,-0.4,-1.5, -2.6,0.9,-0.3,-1,-2.2,-3.3,1.2,0, -0.7,-1.9,-3,0.5,-0.7,-1.4,-2.6,-3.7, -0.2,-1.4,-2.1,-3.3,-4.4,-0.9,-2.1,-2.8, -3.2];
const u8=[0,1.6,0.4,3.9,2.7,2,0.8,4.3, 3.1,2.4,1.2,0.1,3.6,2.4,1.7,0.5, 6,4.8,4.1,2.9,1.8,5.3,4.1,3.4, 2.2,1.1,4.6,3.4,2.7,1.5,0.4,3.9, 2.7,2,0.8,-0.3,3.2,2,1.3,0.1, -1,4.5,3.3,2.6,1.4,0.3,3.8,2.6, 2.2];
const v1=[0,-1.2,1.8,0.6,3.9,2.7,6.2,5, 4.3,8.1,6.9,6.2,10.4,9.2,8.5,7.3, 11.6,10.4,9.7,14.2,13,12.3,15.8,14.6, 13.9,12.7,11.6,14.1,12.9,12.2,11,16.4, 15.2,14.5,13.3,12.2,11.1,13.6,12.4,11.7, 10.5,9.4,12.9,11.7,11,9.8,8.7,7.6, 7.2];
const v2=[0,0.9,-0.3,2.6,1.4,0.7,-0.5,5.8, 4.6,3.9,2.7,1.6,7.9,6.7,6,4.8, 3.7,2.6,9.1,7.9,7.2,13.5,12.3,11.6, 10.4,9.3,14.8,13.6,12.9,11.7,10.6,9.5, 16.2,15,14.3,13.1,12,10.9,9.8,8.7, 7.6,6.5,5.4,4.3,3.2,2.1,1,-0.1, -0.5];
const v3=[0,-1,-2.1,1.3,0.1,-0.6,3.7,2.5, 1.8,0.6,6.2,5,4.3,3.1,9,7.8, 7.1,5.9,4.8,10.3,9.1,8.4,7.2,6.1, 12.5,11.3,10.6,9.4,8.3,13.9,12.7,12, 10.8,9.7,15.1,13.9,13.2,12,10.9,9.8, 14.3,13.1,12.4,11.2,10.1,9,7.9,6.8, 6.4];
const v4=[0,1.4,0.2,-0.5,4.8,3.6,2.9,1.7, 7.5,6.3,5.6,4.4,3.3,9.6,8.4,7.7, 6.5,5.4,11.9,10.7,10,8.8,7.7,6.6, 12.2,11,10.3,9.1,8,6.9,5.8,11.4, 10.2,9.5,8.3,7.2,6.1,5,12.6,11.4, 10.7,9.5,8.4,7.3,6.2,5.1,4,2.9, 2.5];
const v5=[0,-1.1,-2.2,-0.1,-1.3,2.8,1.6,0.9, -0.3,4.6,3.4,2.7,1.5,0.4,7.1,5.9, 5.2,4,2.9,1.8,8.4,7.2,6.5,5.3, 4.2,3.1,2,10.6,9.4,8.7,7.5,6.4, 5.3,4.2,13.8,12.6,11.9,10.7,9.6,8.5, 7.4,6.3,5.2,4.1,9.8,8.6,7.9,6.7, 6.3];
const v6=[0,-0.9,-2,-3.1,1.2,0,-0.7,-1.9, -3,2.6,1.4,0.7,-0.5,-1.6,4.3,3.1, 2.4,1.2,0.1,-1,6.1,4.9,4.2,3, 1.9,0.8,-0.3,8.2,7,6.3,5.1,4, 2.9,1.8,0.7,11.9,10.7,10,8.8,7.7, 6.6,5.5,4.4,3.3,2.2,8.5,7.3,6.6, 6.2];
const v7=[0,1.3,0.1,-0.6,-1.8,3.4,2.2,1.5, 0.3,-0.8,5.9,4.7,4,2.8,1.7,0.6, 7.4,6.2,5.5,4.3,3.2,2.1,1,9.8, 8.6,7.9,6.7,5.6,4.5,3.4,2.3,1.2, 7.7,6.5,5.8,4.6,3.5,2.4,1.3,0.2, -0.9,5.4,4.2,3.5,2.3,1.2,0.1,-1, -1.4];
const v8=[0,-1.2,-2.3,-1.5,-2.7,-3.4,-0.8,-2, -2.7,-3.9,1.4,0.2,-0.5,-1.7,-2.8,-3.9, 2.9,1.7,1,-0.2,-1.3,-2.4,-3.5,4.6, 3.4,2.7,1.5,0.4,-0.7,-1.8,-2.9,-4, -5.1,3.3,2.1,1.4,0.2,-0.9,-2,-3.1, -4.2,-5.3,2.4,1.2,0.5,-0.7,-1.8,-2.9, -3.3];

const RED='#ff0000',GRN='#00b400',BLU='#0000ff',MAG='#ff50ff',CYN='#40ffff',DRD='#b00000',YEL='#ffff00',LBL='#6060ff',BLK='#000000';
const lines=[t1,t2,t3,t4,t5,t6,t7,t8,t9,t10,t11,t12,t13,t14,t15,t16,t17,t18,t19,t20,t21,t22,t23,t24,t25,t26,t27,t28,t29,t30,
  v1,v2,v3,v4,v5,v6,v7,v8,
  s1,s2,s3,s4,s5,s6,s7,s8,s9,s10,s11,s12,s13,s14,s15,s16,s17,s18,s19,s20,s21,s22,s23,s24,s25,s26,s27,s28,s29,s30,s31,s32,s33,s34,s35,s36,s37,s38,s39,s40,s41,s42,s43,s44,s45,s46,s47,s48,s49,s50,
  u1,u2,u3,u4,u5,u6,u7,u8];
const colors=[RED,BLU,MAG,GRN,CYN,DRD,YEL,LBL,RED,BLU,MAG,GRN,CYN,DRD,RED,YEL,LBL,BLK,BLU,MAG,CYN,DRD,RED,GRN,BLU,LBL,YEL,MAG,CYN,DRD,
  DRD,BLU,MAG,RED,CYN,DRD,LBL,BLU,
  GRN,YEL,BLU,BLU,DRD,CYN,RED,LBL,DRD,RED,BLK,CYN,BLU,MAG,DRD,RED,GRN,BLU,MAG,CYN,DRD,YEL,LBL,BLK,RED,GRN,BLU,MAG,CYN,DRD,YEL,LBL,RED,GRN,BLU,MAG,CYN,DRD,YEL,LBL,RED,DRD,MAG,BLU,GRN,CYN,LBL,DRD,MAG,RED,
  RED,BLU,MAG,DRD,YEL,CYN,GRN,LBL];

const FONT='DejaVu Sans Mono';
const chart=echarts.init(document.getElementById('c'),null,{renderer:'canvas'});
const series=lines.map((d,k)=>({
  type:'line', data:d.map((v,i)=>[hours[i],v]), symbol:'none', showSymbol:false,
  lineStyle:{width:1,color:colors[k]}, itemStyle:{color:colors[k]}, silent:true, animation:false
}));
series.push({type:'line',data:[],symbol:'none',silent:true,animation:false,z:5,
  markLine:{symbol:'none',silent:true,animation:false,label:{show:false},
    lineStyle:{color:'#000090',width:1,type:'solid'},data:[{yAxis:0}]}});
const axLine={show:true,onZero:false,lineStyle:{color:'#000',width:1}};
const tick={show:true,inside:true,length:5,lineStyle:{color:'#000',width:1}};
chart.setOption({
  backgroundColor:'#fff', animation:false,
  title:{text:'Cumulative Z-Squared Value',left:'center',top:9,padding:0,
    textStyle:{fontFamily:FONT,fontSize:11.5,fontWeight:'normal',color:'#000'}},
  grid:{left:51,right:20,top:32,bottom:34,containLabel:false,outerBoundsMode:'none'},
  xAxis:[
    {type:'value',min:0,max:23.75,interval:1,position:'bottom',axisLine:axLine,axisTick:tick,
     splitLine:{show:false},axisLabel:{fontFamily:FONT,fontSize:11,color:'#000',margin:7,showMaxLabel:false},
     name:'Hour of Day',nameLocation:'middle',nameGap:21,nameMoveOverlap:false,
     nameTextStyle:{fontFamily:FONT,fontSize:11.5,color:'#000'}},
    {type:'value',min:0,max:23.75,interval:1,position:'top',axisLine:axLine,axisTick:tick,
     splitLine:{show:false},axisLabel:{show:false}}
  ],
  yAxis:[
    {type:'value',min:-30,max:40,interval:10,position:'left',axisLine:axLine,axisTick:tick,
     splitLine:{show:false},axisLabel:{fontFamily:FONT,fontSize:11,color:'#000',margin:8},
     name:'Cumulative (Z*Z)-1',nameLocation:'middle',nameGap:34,nameRotate:90,nameMoveOverlap:false,
     nameTextStyle:{fontFamily:FONT,fontSize:11.5,color:'#000'}},
    {type:'value',min:-30,max:40,interval:10,position:'right',axisLine:axLine,axisTick:tick,
     splitLine:{show:false},axisLabel:{show:false}}
  ],
  series:series
});
</script></body></html>
